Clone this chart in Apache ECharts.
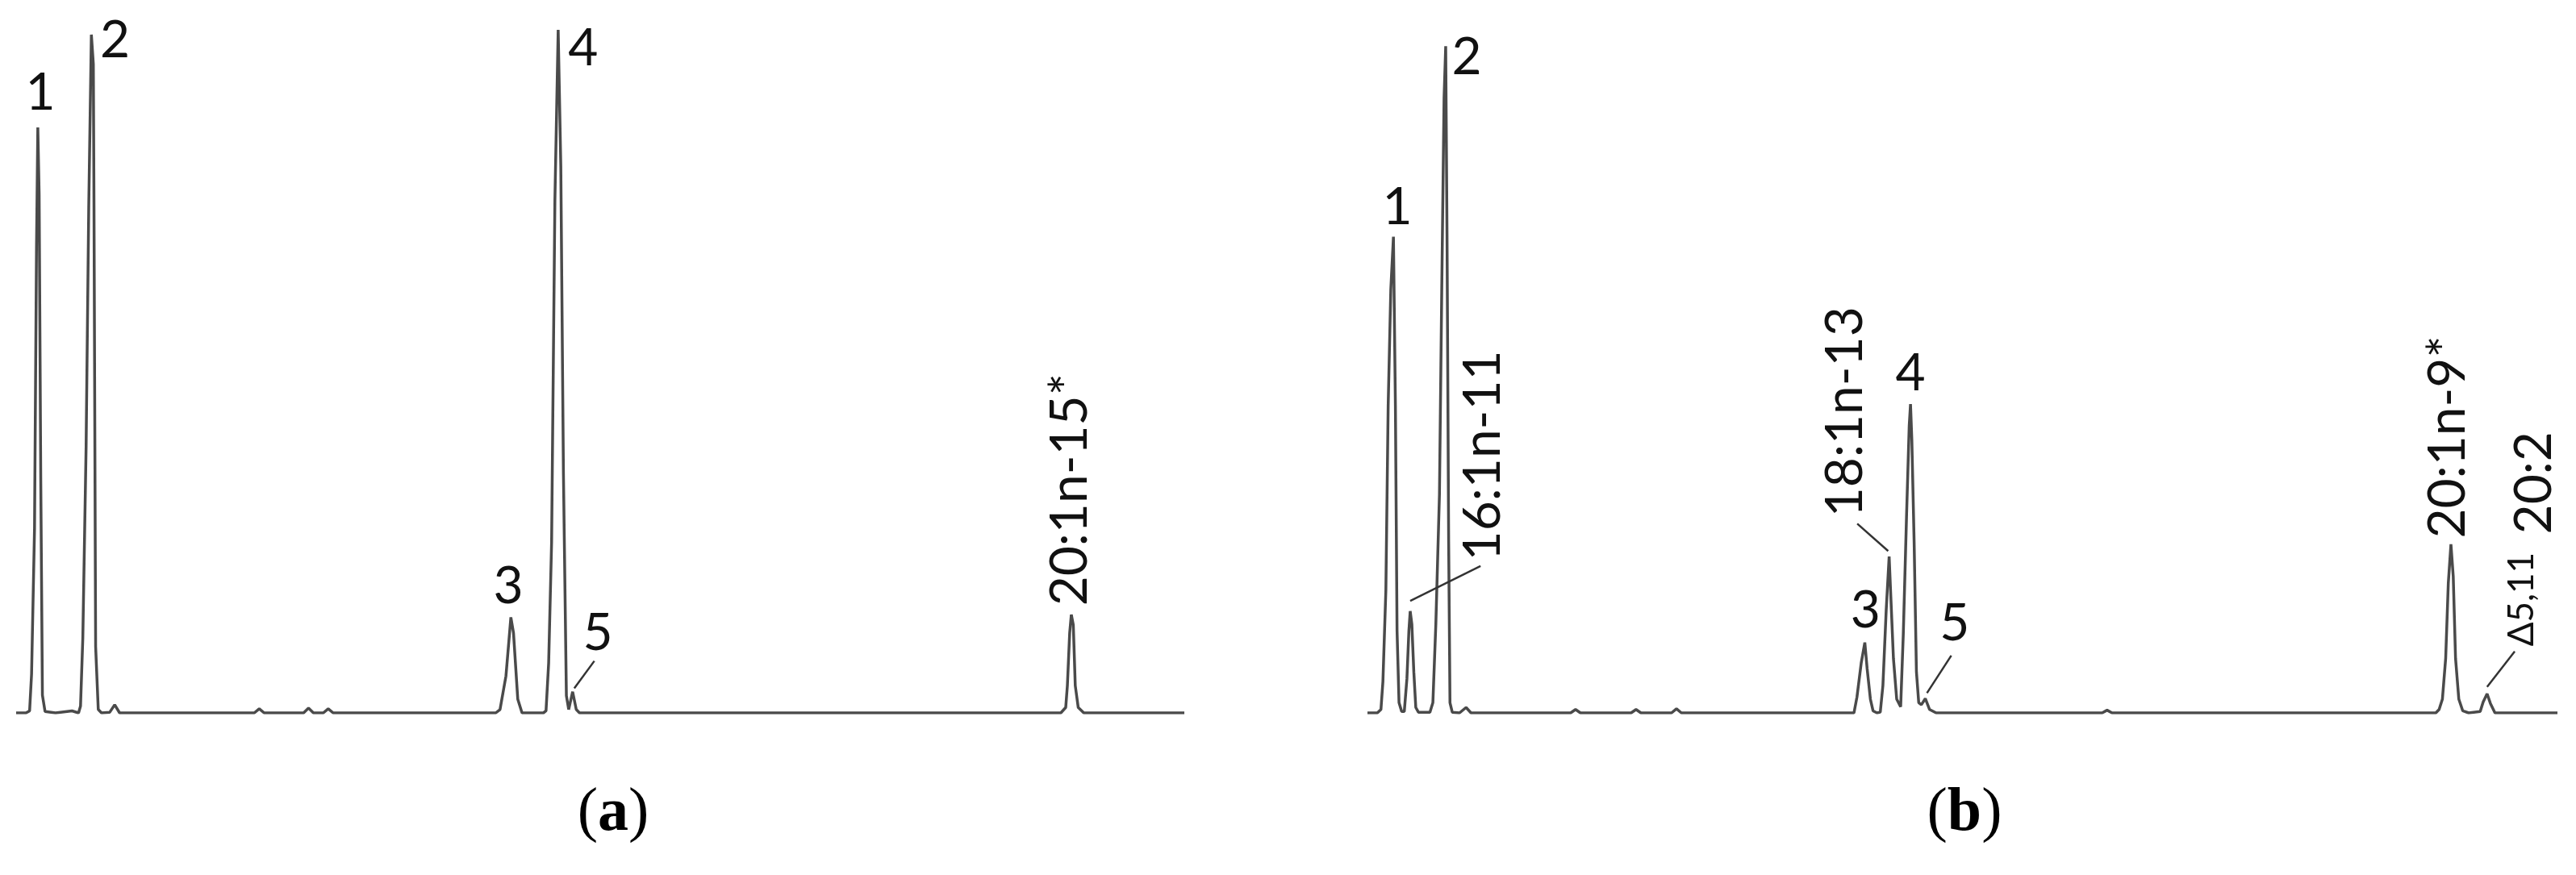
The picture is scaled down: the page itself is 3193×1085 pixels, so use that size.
<!DOCTYPE html>
<html>
<head>
<meta charset="utf-8">
<script src="https://cdn.jsdelivr.net/npm/echarts@6/dist/echarts.min.js"></script>
<style>
html, body { margin: 0; padding: 0; background: #fff; }
#chart { width: 3193px; height: 1085px; }
</style>
</head>
<body>
<div id="chart"></div>
<script>
// retention time (arbitrary units) vs detector signal (% of tallest peak)

// panel (a)
var aPeak1 = [[0, 0], [0.3, 0], [0.41, 0.3], [0.47, 5.7], [0.56, 27], [0.62, 68], [0.66, 85.7], [0.7, 76], [0.75, 34], [0.8, 2.6], [0.88, 0.2], [1.2, 0], [1.7, 0.3]];
var aPeak2 = [[1.9, 0], [1.96, 1], [2.03, 11], [2.13, 39], [2.21, 74], [2.29, 99.3], [2.35, 95], [2.37, 74], [2.42, 9.7], [2.5, 0.5], [2.6, 0], [2.85, 0.1], [3.0, 1.2], [3.15, 0]];
var aMinor = [[7.25, 0], [7.4, 0.6], [7.55, 0], [8.75, 0], [8.9, 0.7], [9.05, 0], [9.35, 0], [9.5, 0.6], [9.65, 0]];
var aPeak3 = [[14.6, 0], [14.73, 0.5], [14.91, 5.4], [15.02, 11.7], [15.06, 14.0], [15.14, 11.7], [15.27, 2.0], [15.4, 0]];
var aPeak45 = [[16.05, 0], [16.13, 0.3], [16.21, 7.3], [16.3, 25], [16.4, 75], [16.5, 100], [16.58, 80], [16.66, 35], [16.75, 2.5], [16.82, 0.5], [16.94, 3.1], [17.05, 0.5], [17.15, 0]];
var aPeak20 = [[31.8, 0], [31.95, 0.8], [32.0, 4], [32.07, 11.7], [32.12, 14.4], [32.18, 12.9], [32.24, 4], [32.33, 0.8], [32.5, 0], [35.56, 0]];

// panel (b)
var bPeak1 = [[0, 0], [0.3, 0], [0.41, 0.5], [0.47, 4.6], [0.56, 18], [0.63, 45], [0.71, 62], [0.79, 69.7], [0.85, 45], [0.9, 12], [0.96, 1.5], [1.04, 0.2]];
var bPeak16 = [[1.12, 0.2], [1.2, 5], [1.26, 12], [1.3, 14.9], [1.35, 13], [1.41, 6], [1.47, 0.8], [1.55, 0.1]];
var bPeak2 = [[1.9, 0.1], [1.99, 1.5], [2.08, 13], [2.19, 32], [2.26, 62], [2.33, 90], [2.38, 97.6], [2.42, 70], [2.47, 25], [2.51, 1.5], [2.58, 0.1], [2.8, 0], [3.0, 0.8], [3.15, 0]];
var bMinor = [[6.18, 0], [6.33, 0.5], [6.48, 0], [8.02, 0], [8.17, 0.5], [8.32, 0], [9.25, 0], [9.4, 0.6], [9.55, 0]];
var bPeak3 = [[14.8, 0], [14.89, 2.3], [15.02, 7.3], [15.13, 10.3], [15.2, 6.5], [15.3, 2], [15.38, 0.3], [15.5, 0]];
var bPeak18 = [[15.6, 0.1], [15.68, 4], [15.78, 15], [15.87, 22.9], [15.93, 16], [16.0, 8], [16.1, 2], [16.22, 0.9]];
var bPeak45 = [[16.3, 11.5], [16.4, 29], [16.48, 42], [16.52, 45.2], [16.56, 40], [16.63, 25], [16.7, 6], [16.77, 1.5], [16.85, 1.2], [16.97, 2.1], [17.1, 0.5], [17.3, 0]];
var bMinor2 = [[22.35, 0], [22.5, 0.4], [22.65, 0]];
var bPeak20 = [[32.5, 0], [32.6, 0.5], [32.7, 2], [32.8, 8], [32.88, 19], [32.96, 24.7], [33.03, 20], [33.1, 8], [33.2, 2], [33.32, 0.3], [33.5, 0], [33.85, 0.2], [33.94, 1.6], [34.06, 2.8], [34.16, 1.4], [34.3, 0], [36.2, 0]];

// peak annotations
var namesA = ['1', '2', '3', '4', '5'];
var namePosA = [[0.74, 90.8], [3.01, 98.4], [14.98, 18.5], [17.26, 97.2], [17.71, 11.7]];
var vertNamesA = ['20:1n-15*'];
var vertPosA = [[32.1, 15.6]];
var leadersA = [[[17.6, 7.6], [16.99, 3.6]]];

var namesB = ['1', '2', '3', '4', '5'];
var namePosB = [[0.91, 74.0], [3.02, 96.0], [15.15, 14.9], [16.52, 49.7], [17.86, 13.1]];
var vertNamesB = ['16:1n-11', '18:1n-13', '20:1n-9*', '20:2'];
var vertPosB = [[3.53, 22.2], [14.55, 28.6], [32.88, 25.5], [35.5, 26.1]];
var smallNamesB = ['Δ5,11'];
var smallPosB = [[35.13, 9.7]];
var leadersB = [[[1.3, 16.4], [3.44, 21.5]], [[14.9, 27.7], [15.84, 23.7]], [[17.76, 8.4], [17.02, 2.9]], [[34.9, 9.0], [34.06, 3.8]]];

var traceA = [].concat(aPeak1, aPeak2, aMinor, aPeak3, aPeak45, aPeak20);
var traceB = [].concat(bPeak1, bPeak16, bPeak2, bMinor, bPeak3, bPeak18, bPeak45, bMinor2, bPeak20);

var FONT = 'Lato, "Open Sans", sans-serif';
var SERIF = '"Liberation Serif", serif';

function flatLabels(names, pos) {
    return names.map(function (n, i) {
        return {
            name: n, coord: pos[i],
            label: { position: 'inside', align: 'center', verticalAlign: 'middle' }
        };
    });
}

function upLabels(names, pos, size) {
    return names.map(function (n, i) {
        return {
            name: n, coord: pos[i],
            label: { position: [0, 0], align: 'left', verticalAlign: 'middle', rotate: 90, fontSize: size }
        };
    });
}

function leaderLines(list) {
    return list.map(function (seg) {
        return [{ coord: seg[0] }, { coord: seg[1] }];
    });
}

function traceSeries(idx, data, marks, leaders) {
    return {
        type: 'line',
        xAxisIndex: idx,
        yAxisIndex: idx,
        data: data,
        symbol: 'none',
        silent: true,
        animation: false,
        lineStyle: { color: '#4a4a4a', width: 3.5 },
        markPoint: {
            symbol: 'circle',
            symbolSize: 1,
            silent: true,
            animation: false,
            itemStyle: { color: 'rgba(0,0,0,0)' },
            label: { show: true, formatter: '{b}', color: '#111', fontFamily: FONT, fontSize: 64 },
            data: marks
        },
        markLine: {
            symbol: ['none', 'none'],
            silent: true,
            animation: false,
            label: { show: false },
            lineStyle: { color: '#333', width: 2.5, type: 'solid' },
            data: leaderLines(leaders)
        }
    };
}

function caption(letter, x) {
    return {
        text: '{p|(}{b|' + letter + '}{p|)}', left: x, top: 966, textAlign: 'center',
        textStyle: {
            fontWeight: 'normal',
            rich: {
                p: { fontFamily: SERIF, fontSize: 76, fontWeight: 'normal', color: '#000' },
                b: { fontFamily: SERIF, fontSize: 76, fontWeight: 'bold', color: '#000' }
            }
        }
    };
}

var chart = echarts.init(document.getElementById('chart'), null, { renderer: 'canvas' });

var hiddenAxis = {
    type: 'value',
    axisLine: { show: false },
    axisTick: { show: false },
    axisLabel: { show: false },
    splitLine: { show: false }
};

chart.setOption({
    backgroundColor: '#fff',
    animation: false,
    title: [caption('a', 755), caption('b', 2430)],
    grid: [
        { left: 20, top: 37, width: 1448, height: 847 },
        { left: 1695, top: 37, width: 1475, height: 847 }
    ],
    xAxis: [
        Object.assign({ gridIndex: 0, min: 0, max: 35.56 }, hiddenAxis),
        Object.assign({ gridIndex: 1, min: 0, max: 36.2 }, hiddenAxis)
    ],
    yAxis: [
        Object.assign({ gridIndex: 0, min: 0, max: 100 }, hiddenAxis),
        Object.assign({ gridIndex: 1, min: 0, max: 100 }, hiddenAxis)
    ],
    series: [
        traceSeries(0, traceA,
            flatLabels(namesA, namePosA).concat(upLabels(vertNamesA, vertPosA, 64)),
            leadersA),
        traceSeries(1, traceB,
            flatLabels(namesB, namePosB).concat(upLabels(vertNamesB, vertPosB, 64), upLabels(smallNamesB, smallPosB, 44)),
            leadersB)
    ]
});
</script>
</body>
</html>
